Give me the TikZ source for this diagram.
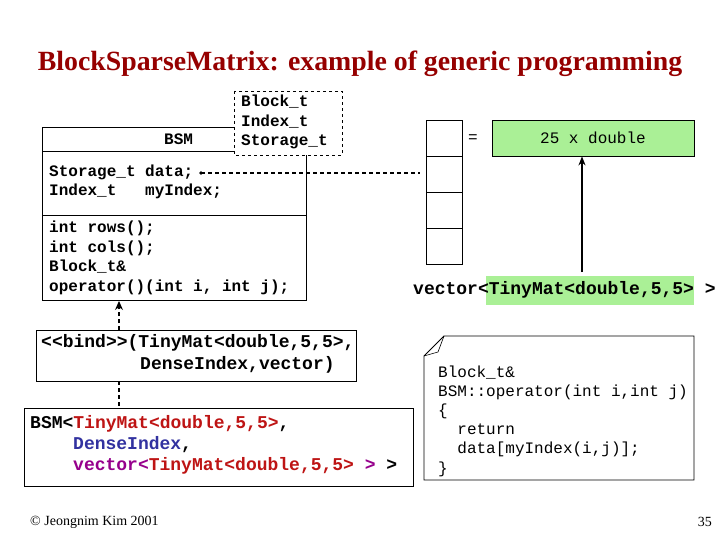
\documentclass[tikz,border=0pt]{standalone}
\usepackage{fontspec}
\setmainfont{Liberation Serif}
\setmonofont{Liberation Mono}
\usetikzlibrary{arrows.meta}
\definecolor{ttl}{RGB}{150,0,0}
\definecolor{grn}{RGB}{170,240,150}
\definecolor{cred}{RGB}{190,20,20}
\definecolor{cblue}{RGB}{50,50,160}
\definecolor{cpurp}{RGB}{150,0,140}
\tikzset{
  mono/.style={font=\fontsize{16}{19.5}\selectfont\ttfamily\bfseries, anchor=west, inner sep=0pt, align=left},
  monob/.style={font=\fontsize{18}{21}\selectfont\ttfamily\bfseries, anchor=west, inner sep=0pt, align=left},
  monol/.style={font=\fontsize{16}{19.2}\selectfont\ttfamily, anchor=west, inner sep=0pt, align=left},
  box/.style={draw, line width=0.8pt},
  dsh/.style={dash pattern=on 4pt off 3pt, line width=1.2pt},
}
\begin{document}
\begin{tikzpicture}[x=1pt,y=-1pt]
\useasboundingbox[fill=white] (0,0) rectangle (720,540);
\node[font=\fontsize{27.8}{32}\selectfont\bfseries, text=ttl] (title) at (360,64) {BlockSparseMatrix: example of generic programming};
% BSM class
\draw[box] (42,127) rectangle (306,300);
\draw[line width=0.8pt] (42,151) -- (306,151);
\draw[line width=0.8pt] (42,215) -- (306,215);
\node[mono] (bsm) at (164,139) {BSM};
\draw[box, dashed, fill=white] (234,91) rectangle (342,155);
\node[mono, align=left] (tpl) at (241,122) {Block\_t\\Index\_t\\Storage\_t};
\node[mono] (attr) at (49,182) {Storage\_t data;\\Index\_t\ \ \ myIndex;};
\node[mono] (ops) at (49,258) {int rows();\\int cols();\\Block\_t\&\\operator()(int i, int j);};
\coordinate (dot) at (201,173);
\fill (dot) circle (1.8);
% vector stack
\draw[box] (426,120) rectangle (462,264);
\foreach \y in {156,192,228} \draw[line width=0.8pt] (426,\y) -- (462,\y);
\coordinate (vecl) at (420,173);
\draw[dsh] (dot) -- (vecl);
\node[monol] (eq) at (468,139) {=};
\node[box, fill=grn, minimum width=202, minimum height=36, inner sep=0pt, font=\fontsize{16}{18}\selectfont\ttfamily] (blk) at (593,138) {25 x double};
\fill[grn] (486,276) rectangle (694,305);
\node[monob] (vec) at (413,290) {vector<TinyMat<double,5,5> >};
\coordinate (vtop) at (582,272);
\draw[line width=1.8pt, -{Stealth[length=9pt,width=7pt]}] (vtop) -- (blk.south -| vtop);
% bind
\draw[box] (36,330) rectangle (356,381);
\node[monob] (bind) at (41,343) {<<bind>>(TinyMat<double,5,5>,};
\node[monob] (bind2) at (140,365) {DenseIndex,vector)};
\coordinate (bt) at (119,330);
\coordinate (bb) at (119,381);
\draw[dsh, -{Stealth[length=9pt,width=8pt]}] (bt) -- (119,301);
\draw[dsh] (bb) -- (119,408);
% BSM instance
\draw[box] (24,408) rectangle (413,486);
\node[monob] (inst) at (30,424) {BSM<\textcolor{cred}{TinyMat<double,5,5>},};
\node[monob, text=cblue] (inst2) at (73,445) {DenseIndex\textcolor{black}{,}};
\node[monob, text=cpurp] (inst3) at (73,466) {vector<\textcolor{cred}{TinyMat<double,5,5>} > \textcolor{black}{>}};
% note
\draw[box] (444,336) -- (694,336) -- (694,480) -- (424,480) -- (424,356) -- cycle;
\draw[line width=0.6pt] (444,336) -- (438,352) -- (424,356);
\node[monol] (note) at (438,421) {Block\_t\&\\BSM::operator(int i,int j)\\\{\\\ \ return\\\ \ data[myIndex(i,j)];\\\}};
% footer
\node[anchor=west, font=\fontsize{14}{16}\selectfont, inner sep=0pt] (copy) at (30,522) {© Jeongnim Kim 2001};
\node[anchor=east, font=\fontsize{14}{16}\selectfont, inner sep=0pt] (pg) at (712,522) {35};
\end{tikzpicture}
\end{document}
